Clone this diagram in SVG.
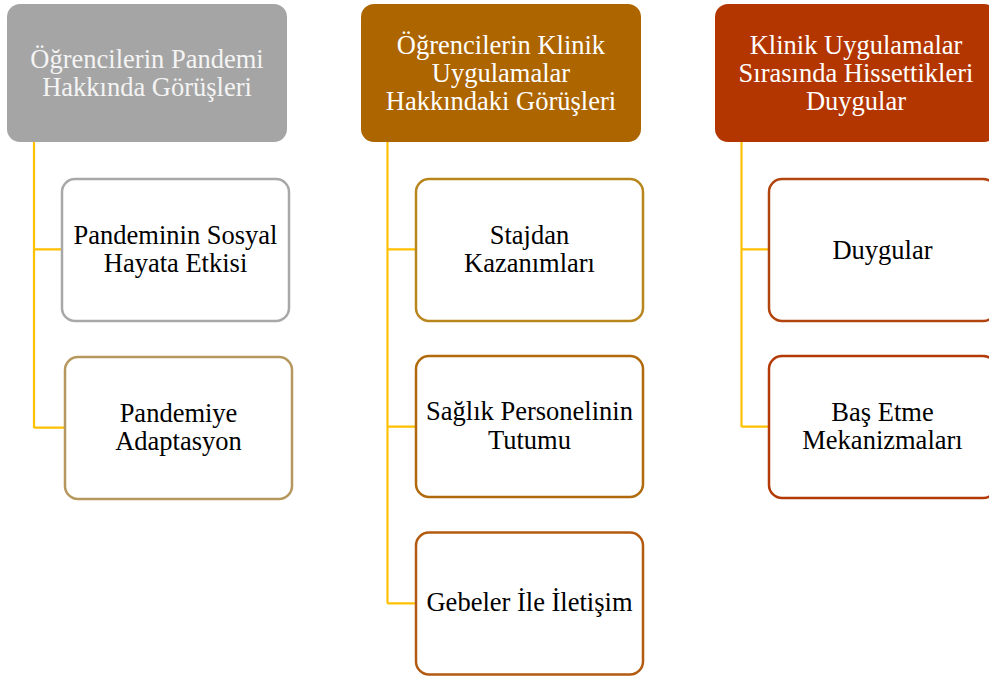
<svg xmlns="http://www.w3.org/2000/svg" width="989" height="677" viewBox="0 0 989 677">
<style>
.hdr{stroke:none}
.box{fill:#ffffff;stroke-width:2.5}
.conn{fill:none;stroke:#ffc000;stroke-width:2.2}
text{font-family:"Liberation Serif","Times New Roman",serif;font-size:26.5px;text-anchor:middle}
.ht{fill:#ffffff}
.ht1{fill:#f4f4f4}
.ct{fill:#000000}
</style>
<rect width="989" height="677" fill="#ffffff"/>
<g id="connectors">
<path class="conn" d="M34 141 V428 M34 249.3 H62 M34 427.7 H65"/>
<path class="conn" d="M387.5 141 V603.5 M387.5 249.3 H416 M387.5 426.7 H416 M387.5 603.3 H416"/>
<path class="conn" d="M741.5 141 V427 M741.5 249.3 H769 M741.5 426.7 H769"/>
</g>
<g id="h1">
<rect class="hdr" x="7" y="4" width="280" height="138" rx="13" fill="#a5a5a5"/>
<text class="ht1" x="147" y="68">Öğrencilerin Pandemi</text>
<text class="ht1" x="147" y="95.5">Hakkında Görüşleri</text>
</g>
<g id="h2">
<rect class="hdr" x="361" y="4" width="280" height="138" rx="13" fill="#ad6500"/>
<text class="ht" x="501" y="53.5">Öğrencilerin Klinik</text>
<text class="ht" x="501" y="81.5">Uygulamalar</text>
<text class="ht" x="501" y="109.5">Hakkındaki Görüşleri</text>
</g>
<g id="h3">
<rect class="hdr" x="715" y="4" width="282" height="138" rx="13" fill="#b33600"/>
<text class="ht" x="856" y="53.5">Klinik Uygulamalar</text>
<text class="ht" x="856" y="81.5">Sırasında Hissettikleri</text>
<text class="ht" x="856" y="109.5">Duygular</text>
</g>
<g id="c1a">
<rect class="box" x="62" y="179" width="227" height="142" rx="13" stroke="#a8a8a8"/>
<text class="ct" x="175.5" y="243.5">Pandeminin Sosyal</text>
<text class="ct" x="175.5" y="272">Hayata Etkisi</text>
</g>
<g id="c1b">
<rect class="box" x="65" y="357" width="227" height="142" rx="13" stroke="#b6985e"/>
<text class="ct" x="178.5" y="421.5">Pandemiye</text>
<text class="ct" x="178.5" y="450">Adaptasyon</text>
</g>
<g id="c2a">
<rect class="box" x="416" y="179" width="227" height="142" rx="13" stroke="#b8861c"/>
<text class="ct" x="529.5" y="243.5">Stajdan</text>
<text class="ct" x="529.5" y="272">Kazanımları</text>
</g>
<g id="c2b">
<rect class="box" x="416" y="356" width="227" height="141" rx="13" stroke="#b06a0c"/>
<text class="ct" x="529.5" y="420">Sağlık Personelinin</text>
<text class="ct" x="529.5" y="448.5">Tutumu</text>
</g>
<g id="c2c">
<rect class="box" x="416" y="532.5" width="227" height="142" rx="13" stroke="#b25a10"/>
<text class="ct" x="529.5" y="611">Gebeler İle İletişim</text>
</g>
<g id="c3a">
<rect class="box" x="769" y="179" width="227" height="142" rx="13" stroke="#b2440e"/>
<text class="ct" x="882.5" y="258.5">Duygular</text>
</g>
<g id="c3b">
<rect class="box" x="769" y="356" width="227" height="142" rx="13" stroke="#b33a06"/>
<text class="ct" x="882.5" y="420.5">Baş Etme</text>
<text class="ct" x="882.5" y="449">Mekanizmaları</text>
</g>
</svg>
